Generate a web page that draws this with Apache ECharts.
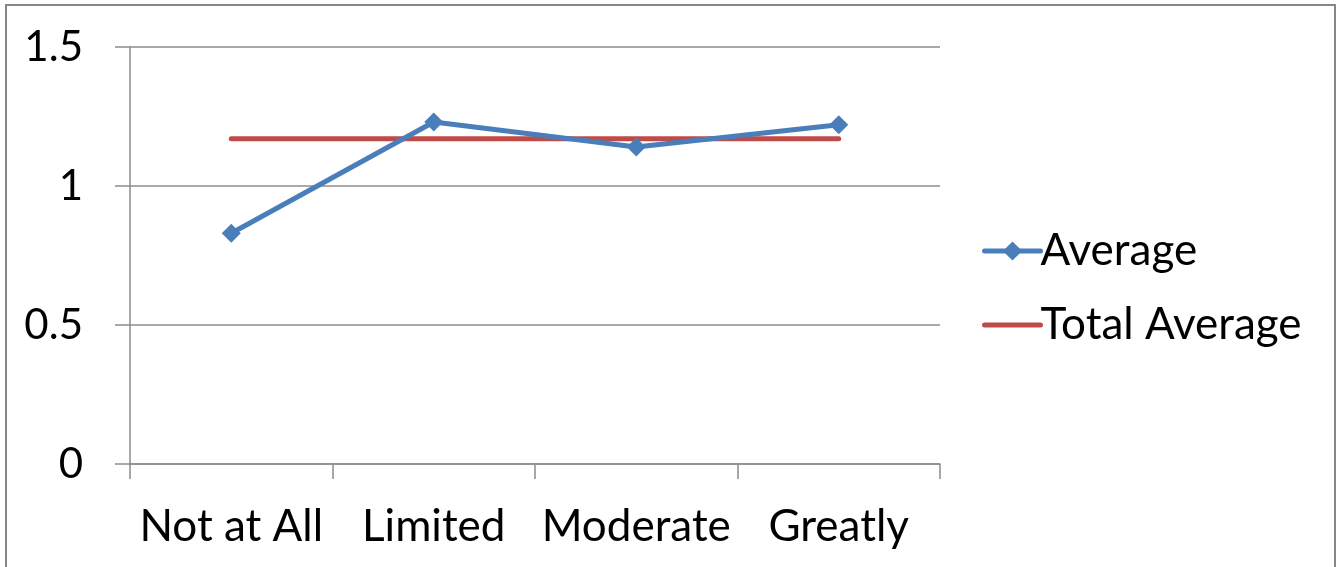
<!DOCTYPE html>
<html>
<head>
<meta charset="utf-8">
<script src="https://cdn.jsdelivr.net/npm/echarts@6/dist/echarts.min.js"></script>
<style>
    html, body { margin: 0; padding: 0; background: #fff; }
    #chart { width: 1343px; height: 567px; }
</style>
</head>
<body>
<div id="chart"></div>
<script>
// data
const categories = ['Not at All', 'Limited', 'Moderate', 'Greatly']
const averageValues = [0.83, 1.23, 1.14, 1.22]
const totalAverageValues = [1.17, 1.17, 1.17, 1.17]
const yTicks = { min: 0, max: 1.5, interval: 0.5 }

const font = 'Lato, "Open Sans", sans-serif'
const gray = '#8c8c8c'

const chart = echarts.init(document.getElementById('chart'))
chart.setOption({
    animation: false,
    textStyle: { fontFamily: font },
    graphic: [
        {
            type: 'rect',
            shape: { x: 6, y: 5, width: 1329, height: 600 },
            style: { fill: 'none', stroke: '#878787', lineWidth: 2 },
            silent: true,
        },
    ],
    grid: {
        left: 130,
        right: 403,
        top: 47,
        bottom: 103,
        containLabel: false,
    },
    legend: {
        orient: 'vertical',
        left: 977,
        top: 224,
        itemWidth: 56,
        itemHeight: 24,
        itemGap: 30,
        lineStyle: { width: 5, cap: 'round' },
        textStyle: { fontSize: 44, color: '#000', fontFamily: font, padding: [0, 0, 0, -5] },
        data: ['Average', { name: 'Total Average', itemStyle: { opacity: 0 } }],
    },
    xAxis: {
        type: 'category',
        data: categories,
        boundaryGap: true,
        axisLine: { lineStyle: { color: gray, width: 1.5 } },
        axisTick: { show: true, interval: 0, length: 15, inside: false, lineStyle: { color: gray, width: 1.5 } },
        axisLabel: { interval: 0, hideOverlap: false, fontSize: 44, color: '#000', margin: 41, fontFamily: font },
    },
    yAxis: {
        type: 'value',
        min: yTicks.min,
        max: yTicks.max,
        interval: yTicks.interval,
        axisLine: { show: true, lineStyle: { color: gray, width: 1.5 } },
        axisTick: { show: true, length: 15, lineStyle: { color: gray, width: 1.5 } },
        axisLabel: { fontSize: 42, color: '#000', margin: 47, fontFamily: font },
        splitLine: { show: true, lineStyle: { color: gray, width: 1.5 } },
    },
    series: [
        {
            name: 'Average',
            type: 'line',
            data: averageValues,
            symbol: 'diamond',
            symbolSize: 19,
            itemStyle: { color: '#4a7ebb' },
            lineStyle: { color: '#4a7ebb', width: 5 },
            z: 3,
        },
        {
            name: 'Total Average',
            type: 'line',
            data: totalAverageValues,
            symbol: 'none',
            itemStyle: { color: '#be4b48' },
            lineStyle: { color: '#be4b48', width: 5, cap: 'round' },
            z: 2,
        },
    ],
})
</script>
</body>
</html>
